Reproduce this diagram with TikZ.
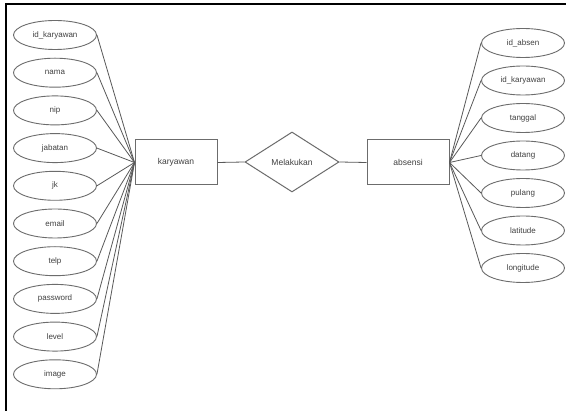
\documentclass[tikz,border=0pt]{standalone}
\usepackage{fontspec}
\setmainfont{Liberation Sans}
\usetikzlibrary{shapes.geometric}
\begin{document}
\begin{tikzpicture}[x=1pt,y=-1pt,
  attr/.style={ellipse,draw=gray!85!black,line width=0.9pt,minimum width=83pt,minimum height=29pt,inner sep=0pt,font=\fontsize{8}{9}\selectfont,text=black!75},
  ent/.style={rectangle,draw=gray!85!black,line width=1pt,minimum width=82pt,minimum height=45pt,inner sep=0pt,font=\fontsize{8.5}{10}\selectfont,text=black!75},
  rel/.style={diamond,draw=gray!85!black,line width=1pt,minimum width=94pt,minimum height=60pt,aspect=1.57,inner sep=0pt,font=\fontsize{8.5}{10}\selectfont,text=black!75},
  conn/.style={draw=black!65,line width=0.8pt}]
\useasboundingbox (0,0) rectangle (566,411);
\fill[white] (0,0) rectangle (566,411);
\draw[line width=2.6pt,black] (566,4) -- (6,4) -- (6,411);

\node[ent] (kar) at (176,162.5) {karyawan};
\node[rel] (rel) at (292,162) {Melakukan};
\node[ent] (abs) at (408,162.5) {absensi};

\node[attr] (a1) at (55,35) {id\_karyawan};
\node[attr] (a2) at (55,72.7) {nama};
\node[attr] (a3) at (55,110.4) {nip};
\node[attr] (a4) at (55,148.1) {jabatan};
\node[attr] (a5) at (55,185.8) {jk};
\node[attr] (a6) at (55,223.5) {email};
\node[attr] (a7) at (55,261.2) {telp};
\node[attr] (a8) at (55,298.9) {password};
\node[attr] (a9) at (55,336.6) {level};
\node[attr] (a10) at (55,374.3) {image};

\node[attr] (b1) at (523,43) {id\_absen};
\node[attr] (b2) at (523,80.5) {id\_karyawan};
\node[attr] (b3) at (523,118) {tanggal};
\node[attr] (b4) at (523,155.5) {datang};
\node[attr] (b5) at (523,193) {pulang};
\node[attr] (b6) at (523,230.5) {latitude};
\node[attr] (b7) at (523,268) {longitude};

\foreach \i in {1,...,10} \draw[conn] (a\i.east) -- (kar.west);
\foreach \i in {1,...,7} \draw[conn] (abs.east) -- (b\i.west);
\draw[conn] (kar.east) -- (rel.west);
\draw[conn] (rel.east) -- (abs.west);
\end{tikzpicture}
\end{document}
